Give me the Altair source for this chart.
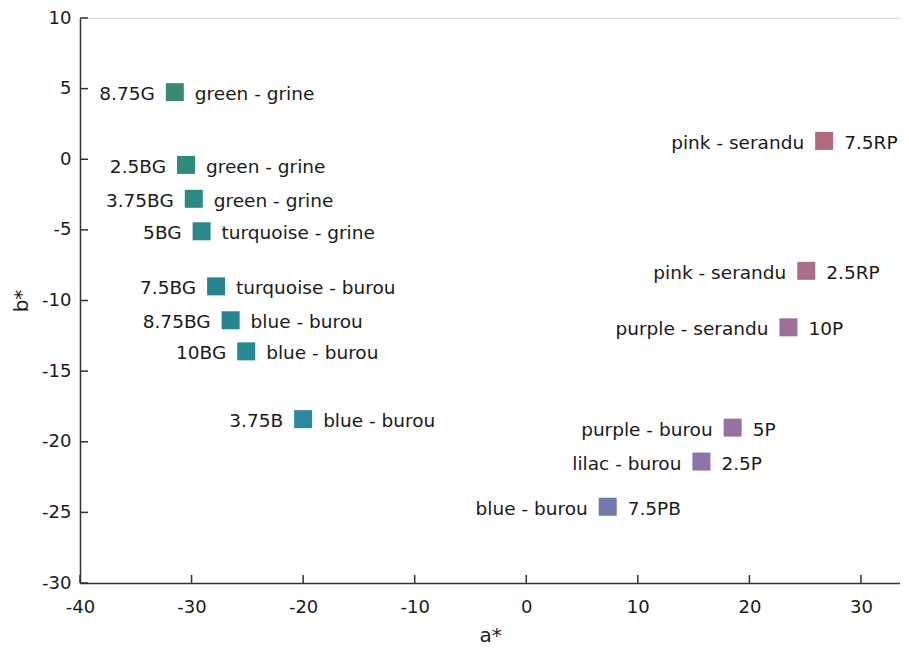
import altair as alt
import pandas as pd

codes = ["8.75G", "2.5BG", "3.75BG", "5BG", "7.5BG", "8.75BG", "10BG", "3.75B",
         "7.5RP", "2.5RP", "10P", "5P", "2.5P", "7.5PB"]
names = ["green - grine", "green - grine", "green - grine", "turquoise - grine",
         "turquoise - burou", "blue - burou", "blue - burou", "blue - burou",
         "pink - serandu", "pink - serandu", "purple - serandu", "purple - burou",
         "lilac - burou", "blue - burou"]
a_vals = [-31.5, -30.5, -29.8, -29.1, -27.8, -26.5, -25.1, -20.0,
          26.7, 25.1, 23.5, 18.5, 15.7, 7.3]
b_vals = [4.75, -0.4, -2.8, -5.1, -9.0, -11.4, -13.6, -18.4,
          1.3, -7.9, -11.9, -19.0, -21.4, -24.6]
colors = ["#3a8a70", "#2e8a7a", "#2c8a80", "#2a8886", "#28878c", "#27868f",
          "#268894", "#2b8a9e", "#b06a7e", "#a86e8c", "#9c6e98", "#9472a4",
          "#8a74a8", "#6e7aac"]
code_left = [True] * 8 + [False] * 6

x_ticks = [-40, -30, -20, -10, 0, 10, 20, 30]
y_ticks = [10, 5, 0, -5, -10, -15, -20, -25, -30]

df = pd.DataFrame({
    "a": a_vals, "b": b_vals, "code": codes, "name": names, "color": colors,
    "left": [c if cl else n for c, n, cl in zip(codes, names, code_left)],
    "right": [n if cl else c for c, n, cl in zip(codes, names, code_left)],
})

FONT = "DejaVu Sans"
xs = alt.Scale(domain=[-40, 33.5], nice=False, zero=False)
ys = alt.Scale(domain=[-30, 10], nice=False, zero=False)

x_enc = alt.X("a:Q", scale=xs, title="a*",
              axis=alt.Axis(values=x_ticks, ticks=False, grid=False,
                            labelExpr="toString(datum.value)",
                            labelFontSize=18, labelFont=FONT, labelColor="#1a1a1a",
                            labelPadding=15, titleFontSize=20, titleFont=FONT,
                            titleFontWeight="normal", titleColor="#1a1a1a",
                            titlePadding=9, domainColor="#333333", domainWidth=1.5,
                            labelFlush=False, labelOverlap=False))
y_enc = alt.Y("b:Q", scale=ys, title="b*",
              axis=alt.Axis(values=y_ticks, ticks=False, grid=False,
                            labelExpr="toString(datum.value)",
                            labelFontSize=18, labelFont=FONT, labelColor="#1a1a1a",
                            labelPadding=9, titleFontSize=20, titleFont=FONT,
                            titleFontWeight="normal", titleColor="#1a1a1a",
                            titlePadding=10, domainColor="#333333", domainWidth=1.5,
                            labelFlush=False, labelOverlap=False))

base = alt.Chart(df)

squares = base.mark_square(size=324, opacity=1, filled=True).encode(
    x=x_enc, y=y_enc, color=alt.Color("color:N", scale=None))

left_text = base.mark_text(align="right", baseline="middle", dx=-20, dy=2,
                           fontSize=18.5, font=FONT, color="#1a1a1a").encode(
    x=alt.X("a:Q", scale=xs), y=alt.Y("b:Q", scale=ys), text="left:N")
right_text = base.mark_text(align="left", baseline="middle", dx=20, dy=2,
                            fontSize=18.5, font=FONT, color="#1a1a1a").encode(
    x=alt.X("a:Q", scale=xs), y=alt.Y("b:Q", scale=ys), text="right:N")

xt = pd.DataFrame({"t": x_ticks})
yt = pd.DataFrame({"t": y_ticks})
x_tick_marks = alt.Chart(xt).mark_rule(color="#333333", strokeWidth=1.5).encode(
    x=alt.X("t:Q", scale=xs), y=alt.value(565), y2=alt.value(557))
y_tick_marks = alt.Chart(yt).mark_rule(color="#333333", strokeWidth=1.5).encode(
    y=alt.Y("t:Q", scale=ys), x=alt.value(0), x2=alt.value(8))

chart = alt.layer(squares, left_text, right_text, x_tick_marks, y_tick_marks).properties(
    width=820, height=565,
    autosize=alt.AutoSizeParams(type="none"),
    padding={"left": 72, "top": 10, "right": 0, "bottom": 67},
).configure_view(stroke=None).configure(background="white")

chart.save("out.html", embed_options={"renderer": "svg", "actions": False})
